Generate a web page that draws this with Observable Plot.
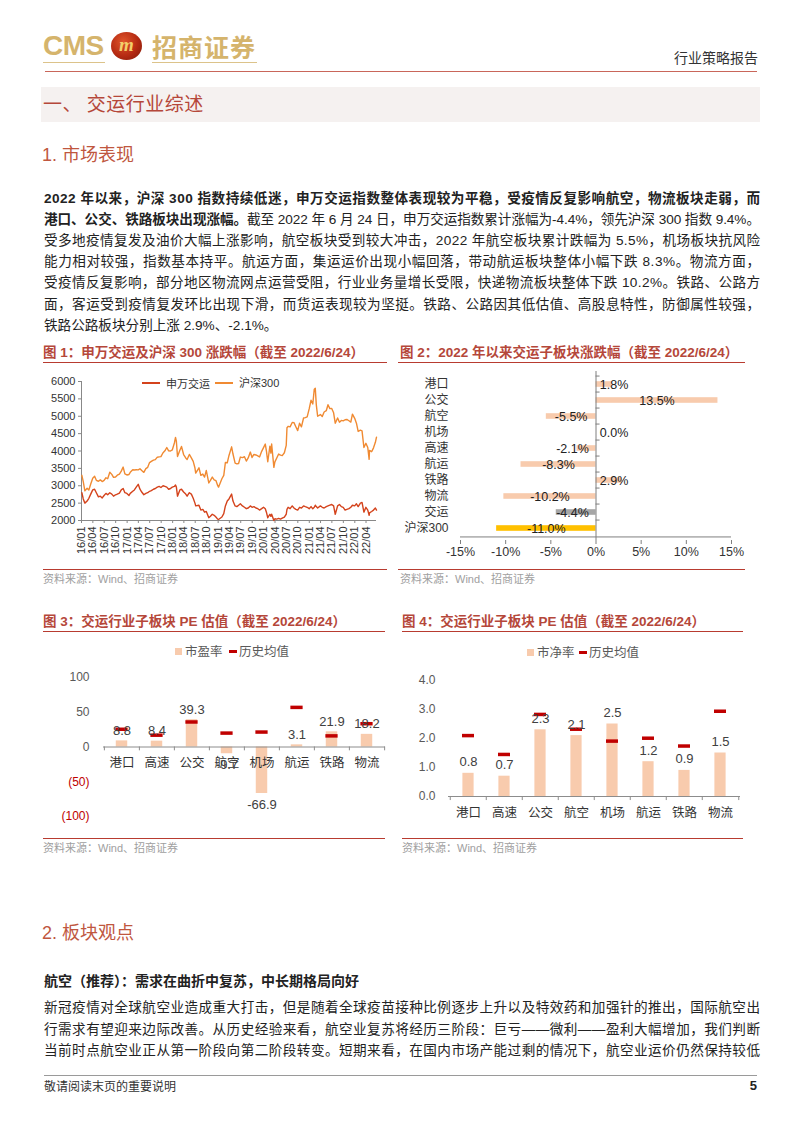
<!DOCTYPE html>
<html><head><meta charset="utf-8">
<script src="https://cdn.jsdelivr.net/npm/d3@7"></script>
<script src="https://cdn.jsdelivr.net/npm/@observablehq/plot@0.6"></script>
<style>
body{margin:0;background:#fff;}
#page{position:relative;width:802px;height:1133px;overflow:hidden;background:#fff;font-family:"Liberation Sans","Noto Sans CJK SC",sans-serif;color:#222;}
.abs{position:absolute;white-space:nowrap;}
.para{position:absolute;left:44px;font-size:13.6px;line-height:20px;height:20px;white-space:nowrap;color:#222;font-family:"Liberation Sans","Noto Sans CJK SC",sans-serif;}
.hline{position:absolute;height:0;}
.chart{position:absolute;}
</style></head>
<body><div id="page"></div>
<script>
// ---------------- DATA ----------------
const lineDates = [
"2016-01-04","2016-01-15","2016-01-28","2016-02-15","2016-02-29","2016-03-15","2016-03-31","2016-04-15","2016-04-29","2016-05-16","2016-05-31","2016-06-15","2016-06-30","2016-07-15","2016-07-29","2016-08-15","2016-08-31","2016-09-14","2016-09-30","2016-10-14","2016-10-31","2016-11-15","2016-11-30","2016-12-14","2016-12-30",
"2017-01-16","2017-01-26","2017-02-15","2017-02-28","2017-03-15","2017-03-31","2017-04-14","2017-04-28","2017-05-15","2017-05-31","2017-06-15","2017-06-30","2017-07-14","2017-07-31","2017-08-15","2017-08-31","2017-09-15","2017-09-29","2017-10-16","2017-10-31","2017-11-15","2017-11-30","2017-12-15","2017-12-29",
"2018-01-15","2018-01-24","2018-01-31","2018-02-09","2018-02-28","2018-03-13","2018-03-30","2018-04-16","2018-04-27","2018-05-15","2018-05-31","2018-06-15","2018-06-29","2018-07-05","2018-07-31","2018-08-15","2018-08-31","2018-09-14","2018-09-28","2018-10-18","2018-10-31","2018-11-15","2018-11-30","2018-12-14","2018-12-28",
"2019-01-04","2019-01-31","2019-02-15","2019-02-28","2019-03-15","2019-03-29","2019-04-19","2019-04-30","2019-05-17","2019-05-31","2019-06-14","2019-06-28","2019-07-15","2019-07-31","2019-08-15","2019-08-30","2019-09-16","2019-09-30","2019-10-15","2019-10-31","2019-11-15","2019-11-29","2019-12-16","2019-12-31",
"2020-01-14","2020-01-23","2020-02-03","2020-02-20","2020-02-28","2020-03-05","2020-03-23","2020-03-31","2020-04-15","2020-04-30","2020-05-15","2020-05-29","2020-06-15","2020-06-30","2020-07-06","2020-07-15","2020-07-31","2020-08-17","2020-08-31","2020-09-15","2020-09-30","2020-10-15","2020-10-30","2020-11-16","2020-11-30","2020-12-15","2020-12-31",
"2021-01-15","2021-01-29","2021-02-10","2021-02-18","2021-02-26","2021-03-09","2021-03-31","2021-04-15","2021-04-30","2021-05-17","2021-05-31","2021-06-15","2021-06-30","2021-07-15","2021-07-28","2021-07-30","2021-08-16","2021-08-31","2021-09-15","2021-09-30","2021-10-15","2021-10-29","2021-11-15","2021-11-30","2021-12-13","2021-12-31",
"2022-01-14","2022-01-28","2022-02-15","2022-02-28","2022-03-15","2022-03-31","2022-04-15","2022-04-26","2022-04-29","2022-05-16","2022-05-31","2022-06-15","2022-06-24"];
const hs300Values = [
3300,3118,2853,2930,2877,3050,3218,3272,3156,3130,3169,3120,3154,3230,3203,3390,3327,3240,3253,3303,3336,3420,3538,3340,3310,
3325,3387,3460,3452,3460,3456,3490,3439,3385,3492,3530,3666,3700,3737,3750,3822,3830,3837,3950,4006,4100,4006,4000,4030,
4230,4389,4275,3840,4023,4130,3898,3800,3756,3900,3802,3700,3510,3365,3517,3300,3335,3250,3438,3080,3153,3250,3172,3150,3010,
2960,3201,3300,3669,3660,3872,4120,3913,3650,3630,3640,3825,3810,3835,3710,3799,3970,3814,3900,3886,3860,3828,3990,4096,
4200,4003,3690,4140,3940,4200,3530,3686,3800,3912,3880,3867,3950,4163,4670,4710,4695,4820,4816,4700,4587,4800,4695,4950,4960,4980,5211,
5460,5352,5780,5807,5336,5000,5048,4990,5123,5160,5332,5220,5224,5100,4800,4811,4950,4828,4880,4866,4900,4908,4870,4832,5060,4940,
4800,4563,4600,4581,4100,4222,4100,3760,4016,3980,4091,4250,4400];
const swjyValues = [
2800,2620,2500,2560,2640,2760,2880,2900,2800,2680,2700,2650,2720,2780,2740,2800,2760,2700,2740,2760,2790,2880,2920,2800,2780,
2720,2780,2840,2880,2960,3040,2900,2820,2740,2780,2800,2840,2860,2900,2920,2960,2980,2950,3000,2980,2960,2900,2920,2960,
2980,3020,2960,2700,2880,2900,2820,2760,2700,2800,2760,2640,2500,2420,2440,2300,2320,2240,2260,2080,2120,2180,2150,2100,2040,
2030,2100,2200,2420,2560,2620,2760,2560,2420,2400,2440,2480,2420,2380,2340,2360,2420,2380,2400,2360,2340,2300,2340,2380,
2340,2240,2080,2180,2120,2180,2000,2050,2040,2060,2040,2070,2100,2180,2320,2380,2340,2420,2360,2320,2300,2380,2360,2420,2400,2380,2340,
2400,2340,2380,2440,2400,2360,2420,2380,2360,2400,2420,2440,2460,2420,2180,2200,2420,2460,2400,2380,2300,2320,2340,2380,2440,2420,
2480,2400,2500,2520,2240,2380,2300,2150,2220,2260,2300,2360,2300];
const lineSeries = ["申万交运","沪深300"];
const lineYTicks = [2000,2500,3000,3500,4000,4500,5000,5500,6000];

const sectors2 = ["港口","公交","航空","机场","高速","航运","铁路","物流","交运","沪深300"];
const change2 = [1.8,13.5,-5.5,0.0,-2.1,-8.3,2.9,-10.2,-4.4,-11.0];
const xTicks2 = [-15,-10,-5,0,5,10,15];

const sectors34 = ["港口","高速","公交","航空","机场","航运","铁路","物流"];
const pe3 = [8.8,8.4,39.3,-9.7,-66.9,3.1,21.9,18.2];
const peHist3 = [25.5,17,36,20,21.5,57,16,33.5];
const yTicks3 = [-100,-50,0,50,100];
const pb4 = [0.8,0.7,2.3,2.1,2.5,1.2,0.9,1.5];
const pbHist4 = [2.1,1.45,2.83,2.32,1.91,2.01,1.74,2.94];
const yTicks4 = [0,1,2,3,4];

// ---------------- STYLE ----------------
const C_TITLE = "#b5473a", C_RULE = "#b83b30", C_GOLD = "#d5b46c";
const C_SW = "#d4431c", C_HS = "#f08a32";
const C_BAR = "#f8cbad", C_HIST = "#c00000";
const page = document.getElementById("page");

function put(html, left, cy, css, lh) {
  lh = lh || 20;
  const d = document.createElement("div");
  d.className = "abs";
  d.style.left = left + "px";
  d.style.top = (cy - lh / 2) + "px";
  d.style.lineHeight = lh + "px";
  if (css) d.style.cssText += css;
  d.innerHTML = html;
  page.appendChild(d);
  return d;
}
function rightText(html, right, cy, css, lh) {
  const d = put(html, 0, cy, css, lh);
  d.style.left = "auto";
  d.style.right = (802 - right) + "px";
  return d;
}
function hline(x1, x2, y, color, w) {
  const d = document.createElement("div");
  d.className = "hline";
  d.style.cssText += `left:${x1}px;top:${y - w / 2}px;width:${x2 - x1}px;border-top:${w}px solid ${color};`;
  page.appendChild(d);
}
function box(x, y, w, h, color) {
  const d = document.createElement("div");
  d.style.cssText = `position:absolute;left:${x}px;top:${y}px;width:${w}px;height:${h}px;background:${color};`;
  page.appendChild(d);
  return d;
}
const PARA_W = 716;
function para(html, cy, last) {
  const d = document.createElement("div");
  d.className = "para";
  d.style.top = (cy - 10) + "px";
  d.innerHTML = html;
  page.appendChild(d);
  if (!last) {
    const w = d.getBoundingClientRect().width;
    const n = d.textContent.length;
    const ls = (PARA_W - w) / Math.max(1, n - 1);
    d.style.letterSpacing = ls + "px";
  }
}
function mount(el, left, top) {
  const d = document.createElement("div");
  d.className = "chart";
  d.style.left = left + "px";
  d.style.top = top + "px";
  d.appendChild(el);
  page.appendChild(d);
}

// ---------------- HEADER ----------------
put("CMS", 43, 46, "font-family:'Liberation Sans';font-weight:700;font-size:28px;color:" + C_GOLD + ";letter-spacing:-0.5px;", 30);
const emb = box(111, 32, 31, 28, "radial-gradient(circle at 40% 35%, #e0552a 0%, #b52a12 55%, #7a1a08 100%)");
emb.style.borderRadius = "50%";
emb.innerHTML = '<div style="position:absolute;left:0;top:0;width:31px;height:28px;line-height:26px;text-align:center;font-family:Liberation Serif;font-style:italic;font-weight:700;font-size:19px;color:#f3cf6a;">m</div>';
put("招商证券", 152, 45.5, "font-family:'Noto Sans CJK SC';font-weight:700;font-size:25px;color:" + C_GOLD + ";letter-spacing:1px;", 30);
hline(43, 105, 62.5, "#dcc38a", 1.5);
hline(152, 257, 62.5, "#dcc38a", 1.5);
rightText("行业策略报告", 758, 57, "font-family:'Noto Sans CJK SC';font-size:14px;color:#333;");
hline(45, 757, 72, "#c9665a", 1.2);

box(41, 87, 719, 35, "#f5f1f0");
put("一、&nbsp;交运行业综述", 43, 103, "font-family:'Noto Sans CJK SC';font-size:19px;color:" + C_TITLE + ";letter-spacing:0.5px;", 26);

put("1. 市场表现", 42, 155, "font-family:'Liberation Sans','Noto Sans CJK SC';font-size:18px;color:#c0573f;", 24);

para("<b>2022 年以来，沪深 300 指数持续低迷，申万交运指数整体表现较为平稳，受疫情反复影响航空，物流板块走弱，而</b>", 199);
para("<b>港口、公交、铁路板块出现涨幅。</b>截至 2022 年 6 月 24 日，申万交运指数累计涨幅为-4.4%，领先沪深 300 指数 9.4%。", 220);
para("受多地疫情复发及油价大幅上涨影响，航空板块受到较大冲击，2022 年航空板块累计跌幅为 5.5%，机场板块抗风险", 241);
para("能力相对较强，指数基本持平。航运方面，集运运价出现小幅回落，带动航运板块整体小幅下跌 8.3%。物流方面，", 262);
para("受疫情反复影响，部分地区物流网点运营受阻，行业业务量增长受限，快递物流板块整体下跌 10.2%。铁路、公路方", 283);
para("面，客运受到疫情复发环比出现下滑，而货运表现较为坚挺。铁路、公路因其低估值、高股息特性，防御属性较强，", 305);
para("铁路公路板块分别上涨 2.9%、-2.1%。", 326, true);

// ---------------- FIGURE TITLES / RULES ----------------
const titleCss = "font-family:'Liberation Sans','Noto Sans CJK SC';font-weight:700;font-size:13.5px;color:" + C_TITLE + ";";
const srcCss = "font-family:'Liberation Sans','Noto Sans CJK SC';font-size:11px;color:#a0a0a0;";
put("图 1：申万交运及沪深 300 涨跌幅（截至 2022/6/24）", 43, 353, titleCss);
put("图 2：2022 年以来交运子板块涨跌幅（截至 2022/6/24）", 400, 353, titleCss);
hline(43, 387, 363, C_RULE, 1.5);
hline(398, 745, 363, C_RULE, 1.5);
hline(43, 387, 570, C_RULE, 1.2);
hline(398, 745, 570, C_RULE, 1.2);
put("资料来源：Wind、招商证券", 43, 579, srcCss);
put("资料来源：Wind、招商证券", 400, 579, srcCss);

put("图 3：交运行业子板块 PE 估值（截至 2022/6/24）", 43, 622, titleCss);
put("图 4：交运行业子板块 PE 估值（截至 2022/6/24）", 402, 622, titleCss);
hline(43, 385, 632, C_RULE, 1.5);
hline(402, 743, 632, C_RULE, 1.5);
hline(43, 385, 839, C_RULE, 1.2);
hline(402, 743, 839, C_RULE, 1.2);
put("资料来源：Wind、招商证券", 43, 848, srcCss);
put("资料来源：Wind、招商证券", 402, 848, srcCss);

// ---------------- CHART 1 ----------------
const lineData = [];
lineDates.forEach((d, i) => {
  lineData.push({date: new Date(d), value: swjyValues[i], series: lineSeries[0]});
  lineData.push({date: new Date(d), value: hs300Values[i], series: lineSeries[1]});
});
const xStart = new Date("2016-01-01"), xEnd = new Date(lineDates[lineDates.length - 1]);
const xTicks1 = d3.utcMonth.every(3).range(xStart, new Date("2022-05-01"));
const chart1 = Plot.plot({
  width: 350, height: 192, marginLeft: 41, marginRight: 14, marginTop: 11, marginBottom: 42,
  style: {fontFamily: "'Liberation Sans','Noto Sans CJK SC'", fontSize: "11px", color: "#333", background: "transparent", overflow: "visible"},
  x: {type: "utc", domain: [xStart, xEnd]},
  y: {domain: [2000, 6000]},
  marks: [
    Plot.axisY({ticks: lineYTicks, tickFormat: d => String(d), tickSize: 3, tickPadding: 3, label: null, stroke: "#888", fontSize: 11}),
    Plot.axisX({ticks: xTicks1, tickFormat: d3.utcFormat("%y/%m"), tickRotate: -90, tickSize: 3, tickPadding: 3, label: null, stroke: "#888", fontSize: 11}),
    Plot.ruleX([xStart], {stroke: "#888"}),
    Plot.ruleY([2000], {stroke: "#888"}),
    Plot.lineY(lineData.filter(d => d.series === lineSeries[1]), {x: "date", y: "value", stroke: C_HS, strokeWidth: 1.4}),
    Plot.lineY(lineData.filter(d => d.series === lineSeries[0]), {x: "date", y: "value", stroke: C_SW, strokeWidth: 1.4})
  ]
});
mount(chart1, 40, 370);
box(142, 382, 18, 2, C_SW);
put(lineSeries[0], 166, 383, "font-family:'Noto Sans CJK SC';font-size:11px;color:#333;", 14);
box(215, 382, 18, 2, C_HS);
put(lineSeries[1], 239, 383, "font-family:'Liberation Sans','Noto Sans CJK SC';font-size:11px;color:#333;", 14);

// ---------------- CHART 2 ----------------
const data2 = sectors2.map((s, i) => ({sector: s, v: change2[i], i}));
const n2 = sectors2.length;
const h2 = 201, mt2 = 6, mb2 = 26;
const step2 = (h2 - mt2 - mb2) / n2;
const fill2 = d => d.i === n2 - 1 ? "#ffc000" : d.i === n2 - 2 ? "#a6a6a6" : C_BAR;
const labelX2 = v => v >= 0 ? Math.max(v / 2, 2.0) : Math.min(v / 2, -2.6);
const chart2 = Plot.plot({
  width: 366, height: h2, marginLeft: 65, marginRight: 30, marginTop: mt2, marginBottom: mb2,
  style: {fontFamily: "'Liberation Sans','Noto Sans CJK SC'", fontSize: "12px", color: "#333", background: "transparent", overflow: "visible"},
  x: {domain: [-15, 15]},
  y: {domain: sectors2, padding: 0},
  marks: [
    Plot.barX(data2, {x1: 0, x2: "v", y: "sector", fill: fill2, insetTop: (step2 - 6.5) / 2, insetBottom: (step2 - 6.5) / 2}),
    Plot.ruleX([0], {stroke: "#7f7f7f"}),
    Plot.ruleY(sectors2, {y: d => d, x1: 0, x2: 0.45, dy: -step2 / 2, stroke: "#7f7f7f"}),
    Plot.ruleY([sectors2[n2 - 1]], {x1: -15, x2: 15, dy: step2 / 2, stroke: "#7f7f7f"}),
    Plot.axisX({ticks: xTicks2, tickFormat: d => d + "%", tickSize: 4, tickPadding: 3, label: null, stroke: "#7f7f7f", fontSize: 12.5}),
    Plot.axisY({tickSize: 0, tickPadding: 12, label: null, fontSize: 12}),
    Plot.text(data2, {x: d => labelX2(d.v), y: "sector", text: d => d.v.toFixed(1) + "%", fontSize: 12.5, fill: "#222"})
  ]
});
mount(chart2, 395, 365);

// ---------------- CHART 3 ----------------
const data3 = sectors34.map((s, i) => ({sector: s, pe: pe3[i], hist: peHist3[i]}));
const w3 = 355, ml3 = 63, mr3 = 10;
const step3 = (w3 - ml3 - mr3) / sectors34.length;
const fmt3 = d => d < 0 ? `(${-d})` : `${d}`;
const chart3 = Plot.plot({
  width: w3, height: 165, marginLeft: ml3, marginRight: mr3, marginTop: 12, marginBottom: 14,
  style: {fontFamily: "'Liberation Sans','Noto Sans CJK SC'", fontSize: "12px", color: "#333", background: "transparent", overflow: "visible"},
  x: {domain: sectors34, padding: 0, axis: null},
  y: {domain: [-100, 100], axis: null},
  marks: [
    Plot.barY(data3, {x: "sector", y: "pe", fill: C_BAR, insetLeft: (step3 - 11.7) / 2, insetRight: (step3 - 11.7) / 2}),
    Plot.ruleY([0], {stroke: "#8c8c8c"}),
    Plot.ruleX(sectors34, {x: d => d, dx: -step3 / 2, y1: 0, y2: -5.5, stroke: "#8c8c8c"}),
    Plot.ruleX([sectors34[sectors34.length - 1]], {dx: step3 / 2, y1: 0, y2: -5.5, stroke: "#8c8c8c"}),
    Plot.text(sectors34, {x: d => d, y: 0, dy: 16, text: d => d, fontSize: 12.5, fill: "#333", fontFamily: "'Noto Sans CJK SC'"}),
    Plot.tickY(data3, {x: "sector", y: "hist", stroke: C_HIST, strokeWidth: 3.5, inset: (step3 - 12.5) / 2}),
    Plot.text(data3.filter(d => d.pe >= 0), {x: "sector", y: "pe", text: d => d.pe.toFixed(1), lineAnchor: "bottom", dy: -6, fontSize: 13, fill: "#404040"}),
    Plot.text(data3.filter(d => d.pe < 0), {x: "sector", y: "pe", text: d => d.pe.toFixed(1), lineAnchor: "top", dy: 6, fontSize: 13, fill: "#404040"}),
    Plot.text(yTicks3, {y: d => d, frameAnchor: "left", dx: -14, textAnchor: "end", text: fmt3, fill: d => d < 0 ? "#c00000" : "#595959", fontSize: 12})
  ]
});
mount(chart3, 40, 665);
box(175, 648, 7, 7, C_BAR);
put("市盈率", 185, 651, "font-family:'Noto Sans CJK SC';font-size:12.5px;color:#595959;", 16);
box(229, 650, 8, 3, C_HIST);
put("历史均值", 239, 651, "font-family:'Noto Sans CJK SC';font-size:12.5px;color:#595959;", 16);

// ---------------- CHART 4 ----------------
const data4 = sectors34.map((s, i) => ({sector: s, pb: pb4[i], hist: pbHist4[i]}));
const w4 = 360, ml4 = 53, mr4 = 15;
const step4 = (w4 - ml4 - mr4) / sectors34.length;
const chart4 = Plot.plot({
  width: w4, height: 161, marginLeft: ml4, marginRight: mr4, marginTop: 15, marginBottom: 30,
  style: {fontFamily: "'Liberation Sans','Noto Sans CJK SC'", fontSize: "12px", color: "#333", background: "transparent", overflow: "visible"},
  x: {domain: sectors34, padding: 0, axis: null},
  y: {domain: [0, 4], axis: null},
  marks: [
    Plot.barY(data4, {x: "sector", y: "pb", fill: C_BAR, insetLeft: (step4 - 11.7) / 2, insetRight: (step4 - 11.7) / 2}),
    Plot.ruleY([0], {stroke: "#8c8c8c"}),
    Plot.ruleX(sectors34, {x: d => d, dx: -step4 / 2, y1: 0, y2: -0.14, stroke: "#8c8c8c"}),
    Plot.ruleX([sectors34[sectors34.length - 1]], {dx: step4 / 2, y1: 0, y2: -0.14, stroke: "#8c8c8c"}),
    Plot.text(sectors34, {x: d => d, y: 0, dy: 16, text: d => d, fontSize: 12.5, fill: "#333", fontFamily: "'Noto Sans CJK SC'"}),
    Plot.tickY(data4, {x: "sector", y: "hist", stroke: C_HIST, strokeWidth: 3.5, inset: (step4 - 12.5) / 2}),
    Plot.text(data4, {x: "sector", y: "pb", text: d => d.pb.toFixed(1), lineAnchor: "bottom", dy: -7, fontSize: 13, fill: "#404040"}),
    Plot.text(yTicks4, {y: d => d, frameAnchor: "left", dx: -13, textAnchor: "end", text: d => d.toFixed(1), fill: "#595959", fontSize: 12})
  ]
});
mount(chart4, 395, 665);
box(527, 649, 7, 7, C_BAR);
put("市净率", 537, 652, "font-family:'Noto Sans CJK SC';font-size:12.5px;color:#595959;", 16);
box(579, 651, 8, 3, C_HIST);
put("历史均值", 589, 652, "font-family:'Noto Sans CJK SC';font-size:12.5px;color:#595959;", 16);

// ---------------- SECTION 2 ----------------
put("2. 板块观点", 42, 933, "font-family:'Liberation Sans','Noto Sans CJK SC';font-size:18px;color:#c0573f;", 24);
put("航空（推荐）：需求在曲折中复苏，中长期格局向好", 44, 980, "font-family:'Noto Sans CJK SC';font-weight:700;font-size:14px;color:#222;");
para("新冠疫情对全球航空业造成重大打击，但是随着全球疫苗接种比例逐步上升以及特效药和加强针的推出，国际航空出", 1008);
para("行需求有望迎来边际改善。从历史经验来看，航空业复苏将经历三阶段：巨亏——微利——盈利大幅增加，我们判断", 1030);
para("当前时点航空业正从第一阶段向第二阶段转变。短期来看，在国内市场产能过剩的情况下，航空业运价仍然保持较低", 1051);

hline(44, 757, 1075, "#9a9a9a", 1);
put("敬请阅读末页的重要说明", 44, 1086, "font-family:'Noto Sans CJK SC';font-size:12px;color:#333;");
rightText("5", 757, 1086, "font-family:'Liberation Sans';font-weight:700;font-size:13px;color:#222;");
</script>
</body></html>
